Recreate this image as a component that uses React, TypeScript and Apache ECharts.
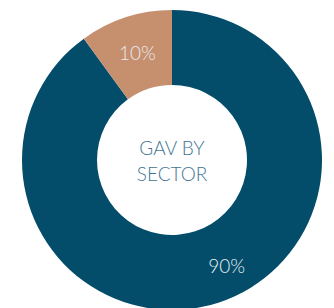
import React, { useEffect, useRef } from "react";
import * as echarts from "echarts";

const categories = ["Sector A", "Sector B"];
const values = [90, 10];
const labels = ["90%", "10%"];
const colors = ["#034d6b", "#c68f6e"];
const centerLines = ["GAV BY", "SECTOR"];

export default function App() {
  const ref = useRef<HTMLDivElement>(null);
  useEffect(() => {
    document.body.style.margin = "0";
    const chart = echarts.init(ref.current!, null, { renderer: "svg" });
    chart.setOption({
      animation: false,
      backgroundColor: "#ffffff",
      graphic: [
        {
          type: "text",
          x: 172,
          y: 160,
          style: {
            text: centerLines.join("\n"),
            fill: "#427593",
            font: "300 19px Lato, 'Open Sans', sans-serif",
            lineHeight: 26,
            align: "center",
            verticalAlign: "middle",
          },
        },
      ],
      series: [
        {
          type: "pie",
          center: [172, 160],
          radius: [75, 150],
          startAngle: 90,
          clockwise: true,
          silent: true,
          labelLine: { show: false },
          data: categories.map((c, i) => ({
            name: c,
            value: values[i],
            itemStyle: { color: colors[i] },
            label: {
              show: true,
              position: "inside",
              formatter: labels[i],
              color: "#e6ecef",
              fontSize: 19,
              fontWeight: 300,
              fontFamily: "Lato, 'Open Sans', sans-serif",
              offset: i === 0 ? [19, -4] : [1, 2],
            },
          })),
        },
      ],
    });
    return () => chart.dispose();
  }, []);
  return <div ref={ref} style={{ width: 334, height: 308 }} />;
}
